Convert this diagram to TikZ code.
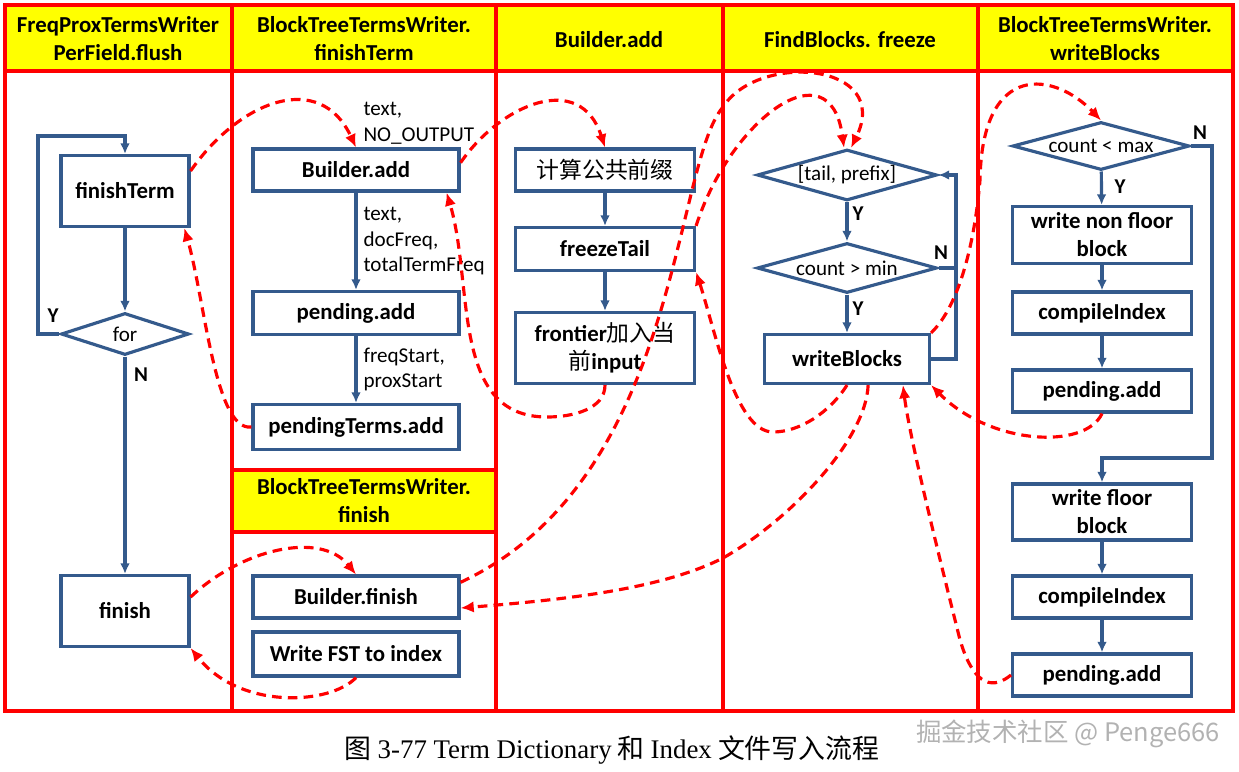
\documentclass[tikz,border=0pt]{standalone}
\usepackage{fontspec}
\setmainfont{Carlito}
\newfontfamily\cjk{Noto Sans CJK SC}
\newfontfamily\capfont{Liberation Serif}
\usetikzlibrary{arrows.meta,shapes.geometric,calc}

\definecolor{lanered}{RGB}{255,0,0}
\definecolor{headyellow}{RGB}{255,255,0}
\definecolor{flowblue}{RGB}{52,90,140}

\begin{document}
\begin{tikzpicture}[x=0.02cm, y=-0.02cm, line width=1.8pt,
  box/.style={draw=flowblue, fill=white, align=center, inner sep=1pt,
    font=\bfseries\fontsize{13}{16}\selectfont},
  cond/.style={diamond, draw=flowblue, fill=white, inner sep=0pt,
    font=\fontsize{12}{14}\selectfont},
  flow/.style={draw=flowblue, -{Latex[length=6pt,width=5.5pt]}},
  call/.style={draw=lanered, dash pattern=on 5.5pt off 3.5pt,
    -{Latex[length=7.5pt,width=6.5pt]}},
  lbl/.style={anchor=north west, align=left, inner sep=0pt,
    font=\fontsize{12}{14.5}\selectfont},
  yn/.style={inner sep=0pt, font=\bfseries\fontsize{12}{14}\selectfont},
  head/.style={align=center, font=\bfseries\fontsize{13}{16}\selectfont}]

  \useasboundingbox (0,0) rectangle (1239,771);

  % swim lanes and their headers
  \fill[headyellow] (5,5) rectangle (1233,71);
  \fill[headyellow] (232,470) rectangle (496,532);
  \draw[lanered] (5,5) rectangle (1233,711);
  \draw[lanered] (5,71) -- (1233,71);
  \foreach \x in {232,496,723,978}
    \draw[lanered] (\x,5) -- (\x,711);
  \draw[lanered] (232,470) -- (496,470) (232,532) -- (496,532);

  \node[head] (hFlush) at (118,39) {FreqProxTermsWriter\\PerField.flush};
  \node[head] (hTerm) at (364,39) {BlockTreeTermsWriter.\\finishTerm};
  \node[head] (hAdd) at (609,40) {Builder.add};
  \node[head] (hFreeze) at (850,40) {FindBlocks. freeze};
  \node[head] (hWrite) at (1105,39) {BlockTreeTermsWriter.\\writeBlocks};
  \node[head] (hFinish) at (364,501) {BlockTreeTermsWriter.\\finish};

  % FreqProxTermsWriterPerField.flush
  \node[box, minimum width=2.56cm, minimum height=1.42cm] (finishTerm) at (125,191) {finishTerm};
  \node[cond, aspect=3.05, minimum width=2.56cm, minimum height=0.84cm] (forLoop) at (125,334) {for};
  \node[box, minimum width=2.56cm, minimum height=1.42cm] (finish) at (125,611) {finish};
  \coordinate (loopTop) at (38,136);
  \draw[flow] (finishTerm) -- (forLoop);
  \draw[flow] (forLoop) -- (finish);
  \draw[flow] (forLoop.west) -| (loopTop) -| (finishTerm.north);
  \node[yn] (yFor) at (53,316) {Y};
  \node[yn] (nFor) at (141,375) {N};

  % finishTerm / finish
  \node[box, minimum width=4.12cm, minimum height=0.84cm] (bAdd) at (356,170) {Builder.add};
  \node[box, minimum width=4.12cm, minimum height=0.86cm] (pendAdd) at (356,313) {pending.add};
  \node[box, minimum width=4.12cm, minimum height=0.9cm] (pendTerms) at (356,427) {pendingTerms.add};
  \node[box, minimum width=4.12cm, minimum height=0.84cm] (bFinish) at (356,597) {Builder.finish};
  \node[box, minimum width=4.12cm, minimum height=0.88cm] (writeFst) at (356,654) {Write FST to index};
  \draw[flow] (bAdd) -- (pendAdd);
  \draw[flow] (pendAdd) -- (pendTerms);
  \node[lbl] (lAdd) at (362,101) {text,\\NO\_OUTPUT};
  \node[lbl] (lPend) at (362,206) {text,\\docFreq,\\totalTermFreq};
  \node[lbl] (lTerms) at (362,346) {freqStart,\\proxStart};

  % Builder.add
  \node[box, minimum width=3.58cm, minimum height=0.84cm] (prefix) at (605,170) {\cjk\mdseries 计算公共前缀};
  \node[box, minimum width=3.58cm, minimum height=0.86cm] (fzTail) at (605,249) {freezeTail};
  \node[box, minimum width=3.58cm, minimum height=1.42cm] (frontier) at (605,348)
    {frontier{\cjk\mdseries 加入当}\\{\cjk\mdseries 前}input};
  \draw[flow] (prefix) -- (fzTail);
  \draw[flow] (fzTail) -- (frontier);

  % FindBlocks.freeze
  \node[cond, aspect=3.53, minimum width=3.6cm, minimum height=1.02cm] (tailPre) at (847,175) {[tail, prefix]};
  \node[cond, aspect=3.6, minimum width=3.6cm, minimum height=1.0cm] (cntMin) at (847,268) {count > min};
  \node[box, minimum width=3.3cm, minimum height=0.98cm] (wBlocks) at (847,359) {writeBlocks};
  \coordinate (freezeRail) at (956,175);
  \draw[flow] (tailPre) -- (cntMin);
  \draw[flow] (cntMin) -- (wBlocks);
  \draw[flow] (wBlocks.east) -| (freezeRail) -- (tailPre.east);
  \draw[flowblue] (cntMin.east) -- (cntMin.east -| freezeRail);
  \node[yn] (yTail) at (858,214) {Y};
  \node[yn] (nMin) at (941,253) {N};
  \node[yn] (yMin) at (858,309) {Y};

  % writeBlocks
  \node[cond, aspect=3.7, minimum width=3.54cm, minimum height=0.96cm] (cntMax) at (1101,146) {count < max};
  \node[box, minimum width=3.58cm, minimum height=1.14cm] (nonFloor) at (1102,235) {write non floor\\block};
  \node[box, minimum width=3.58cm, minimum height=0.84cm] (idxA) at (1102,313) {compileIndex};
  \node[box, minimum width=3.58cm, minimum height=0.84cm] (pendA) at (1102,391) {pending.add};
  \node[box, minimum width=3.58cm, minimum height=1.12cm] (floor) at (1102,512) {write floor\\block};
  \node[box, minimum width=3.58cm, minimum height=0.84cm] (idxB) at (1102,597) {compileIndex};
  \node[box, minimum width=3.58cm, minimum height=0.84cm] (pendB) at (1102,675) {pending.add};
  \coordinate (floorRail) at (1212,458);
  \draw[flow] (cntMax) -- (nonFloor);
  \draw[flow] (nonFloor) -- (idxA);
  \draw[flow] (idxA) -- (pendA);
  \draw[flow] (cntMax.east) -| (floorRail) -| (floor.north);
  \draw[flow] (floor) -- (idxB);
  \draw[flow] (idxB) -- (pendB);
  \node[yn] (nMax) at (1200,133) {N};
  \node[yn] (yMax) at (1120,187) {Y};

  % calls between the lanes
  \draw[call] (finishTerm.17) .. controls (240,100) and (320,70) .. (bAdd.north);
  \draw[call] (bAdd.4) .. controls (500,105) and (580,70) .. (prefix.north);
  \draw[call] (fzTail.north east) .. controls (730,120) and (830,45) .. ($(tailPre.north)+(-3,0)$);
  \draw[call] (bFinish.8) .. controls (680,480) and (673,165) .. (723,107)
    .. controls (758,52) and (893,62) .. ($(tailPre.north)+(4,0)$);
  \draw[call] (frontier.south) .. controls (605,409) and (573,417) .. (547,417)
    .. controls (450,417) and (474,284) .. (bAdd.-14);
  \draw[call] (pendTerms.west) .. controls (215,432) and (205,300) .. (finishTerm.-32);
  \draw[call] (wBlocks.south) .. controls (830,412) and (800,432) .. (773,432)
    .. controls (735,432) and (715,330) .. (fzTail.south east);
  \draw[call] (wBlocks.-51) .. controls (866,440) and (790,520) .. (723,558)
    .. controls (660,590) and (560,600) .. (bFinish.-6);
  \draw[call] (pendB.west) .. controls (995,688) and (975,690) .. (960,640)
    .. controls (940,560) and (910,440) .. (wBlocks.-25);
  \draw[call] (pendA.south) .. controls (1085,450) and (990,445) .. (wBlocks.south east);
  \draw[call] (wBlocks.north east) .. controls (960,305) and (975,240) .. (980,180)
    .. controls (982,60) and (1055,72) .. (cntMax.north);
  \draw[call] (finish.12) .. controls (240,550) and (320,530) .. (bFinish.north);
  \draw[call] (writeFst.south) .. controls (330,705) and (240,710) .. (finish.south east);

  % caption and mark
  \node[font=\fontsize{15.3}{18}\selectfont] (caption) at (612,750)
    {{\cjk 图} {\capfont 3-77 Term Dictionary} {\cjk 和} {\capfont Index} {\cjk 文件写入流程}};
  \node[text=gray!60, font=\cjk\fontsize{14.5}{17}\selectfont] (mark) at (1068,734)
    {掘金技术社区 @ Penge666};
\end{tikzpicture}
\end{document}
